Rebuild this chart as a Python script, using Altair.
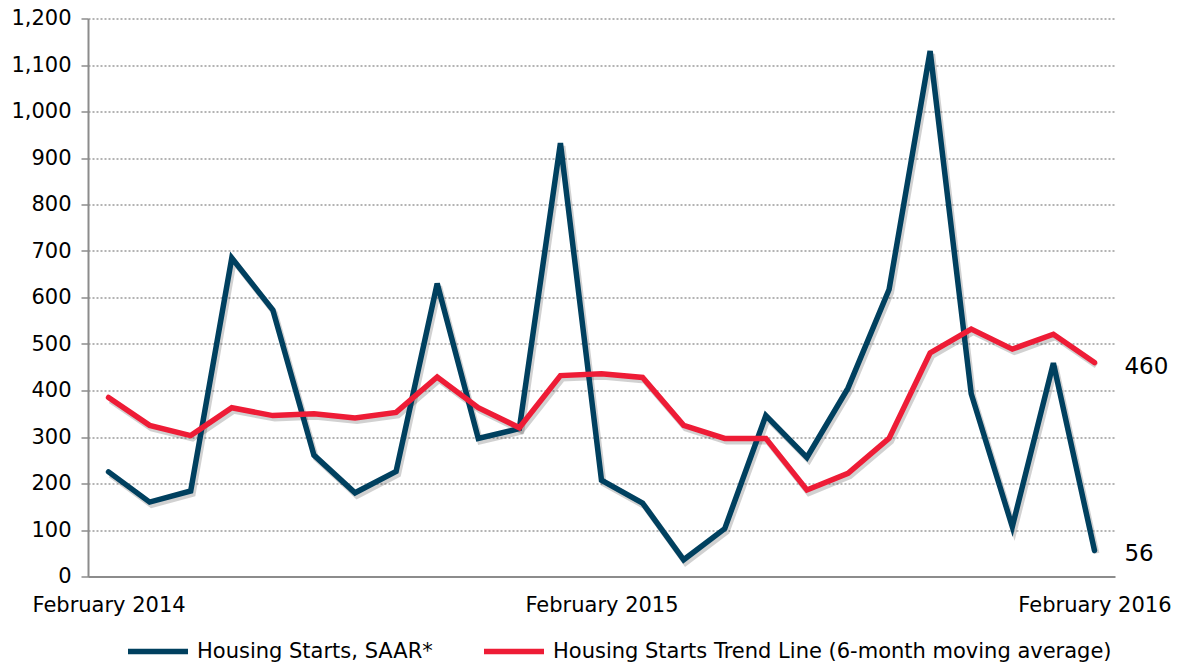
import altair as alt
import pandas as pd

months = [
    "February 2014", "March 2014", "April 2014", "May 2014", "June 2014", "July 2014",
    "August 2014", "September 2014", "October 2014", "November 2014", "December 2014",
    "January 2015", "February 2015", "March 2015", "April 2015", "May 2015", "June 2015",
    "July 2015", "August 2015", "September 2015", "October 2015", "November 2015",
    "December 2015", "January 2016", "February 2016",
]
starts = [225, 160, 184, 685, 573, 261, 180, 226, 630, 297, 318, 932, 207, 158, 36,
          103, 346, 256, 405, 617, 1130, 393, 107, 459, 56]
trend = [385, 325, 303, 363, 346, 350, 341, 353, 429, 363, 320, 432, 436, 428, 325,
         297, 297, 186, 222, 297, 481, 532, 489, 521, 460]
series_names = ["Housing Starts, SAAR*", "Housing Starts Trend Line (6-month moving average)"]
series_colors = ["#00405F", "#EE1C36"]
tick_months = ["February 2014", "February 2015", "February 2016"]
y_ticks = list(range(0, 1201, 100))

rows = []
for i, m in enumerate(months):
    rows.append({"Month": m, "Series": series_names[0], "Value": starts[i], "order": 0})
    rows.append({"Month": m, "Series": series_names[1], "Value": trend[i], "order": 1})
df = pd.DataFrame(rows)

FONT = "DejaVu Sans"
FS = 21

x_enc = alt.X("Month:N", sort=months,
              scale=alt.Scale(type="point", padding=0.5),
              axis=alt.Axis(values=tick_months, title=None, labelAngle=0,
                            labelFontSize=FS, labelColor="#000000", labelFont=FONT,
                            labelPadding=18, ticks=False, domainColor="#8C8C8C",
                            domainWidth=2, grid=False, labelOverlap=False))
y_enc = alt.Y("Value:Q",
              scale=alt.Scale(domain=[0, 1200], nice=False),
              axis=alt.Axis(values=y_ticks, format=",d", title=None,
                            labelFontSize=FS, labelColor="#000000", labelFont=FONT,
                            labelPadding=10, tickSize=7, tickColor="#8C8C8C", tickWidth=1.5,
                            domainColor="#8C8C8C", domainWidth=2,
                            grid=True, gridColor="#9A9A9A", gridDash=[2, 2], gridWidth=1.3))

color_enc = alt.Color("Series:N",
                      scale=alt.Scale(domain=series_names, range=series_colors),
                      legend=alt.Legend(title=None, orient="none", direction="horizontal",
                                        legendX=37, legendY=600,
                                        symbolType="stroke", symbolSize=3600,
                                        symbolStrokeWidth=5.5, labelFontSize=FS,
                                        labelFont=FONT, labelColor="#000000",
                                        labelLimit=800, columnPadding=40, labelOffset=6))

base = alt.Chart(df)

shadow = base.mark_line(strokeWidth=6, color="#000000", opacity=0.18,
                        xOffset=2, yOffset=3, strokeJoin="miter").encode(
    x=x_enc, y=y_enc, detail="Series:N")

lines = base.mark_line(strokeWidth=5.5, strokeJoin="miter", strokeCap="round").encode(
    x=x_enc, y=y_enc, color=color_enc,
    order=alt.Order("order:Q"))

last = df[df["Month"] == months[-1]]
labels = alt.Chart(last).mark_text(align="left", baseline="middle", dx=30, dy=4,
                                   fontSize=23, font=FONT, color="#000000").encode(
    x=alt.X("Month:N", sort=months, scale=alt.Scale(type="point", padding=0.5)),
    y=alt.Y("Value:Q", scale=alt.Scale(domain=[0, 1200], nice=False)),
    text=alt.Text("Value:Q", format="d"))

chart = alt.layer(shadow, lines, labels).properties(
    width=1027, height=558,
    autosize=alt.AutoSizeParams(type="none"),
    padding={"left": 80, "top": 10.5, "right": 60, "bottom": 86},
).configure_view(stroke=None)

chart.save("out.html", embed_options={"renderer": "svg", "actions": False})
